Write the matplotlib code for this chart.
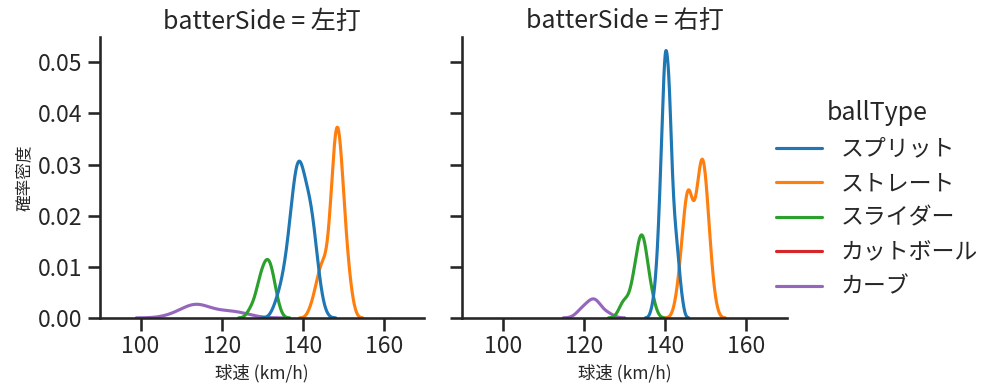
import numpy as np
import pandas as pd
import matplotlib
matplotlib.use("Agg")
import matplotlib.pyplot as plt
import seaborn as sns

# 球種ごとの球速 (km/h) と投球数
ball_types = ["スプリット", "ストレート", "スライダー", "カットボール", "カーブ"]
sides = ["左打", "右打"]

left_split_speed = [133, 134, 135, 136, 137, 138, 139, 140, 141, 142, 143, 144, 145]
left_split_count = [1, 2, 3, 5, 8, 12, 14, 12, 10, 10, 7, 3, 1]
left_straight_speed = [142, 143, 144, 145, 146, 147, 148, 149, 150, 151, 152]
left_straight_count = [1, 2, 4, 5, 4, 9, 17, 17, 10, 5, 2]
left_slider_speed = [127, 128, 129, 130, 131, 132, 133, 134]
left_slider_count = [1, 1, 3, 4, 5, 5, 3, 1]
left_curve_speed = [108, 111, 113, 114, 115, 117, 119, 121, 122, 124, 126]
left_curve_count = [1, 2, 2, 2, 2, 1, 1, 1, 1, 1, 1]

right_split_speed = [137, 138, 139, 140, 141, 142, 143, 144]
right_split_count = [1, 4, 12, 23, 20, 9, 6, 2]
right_straight_speed = [143, 144, 145, 146, 147, 148, 149, 150, 151, 152]
right_straight_count = [2, 5, 10, 13, 6, 10, 15, 13, 6, 2]
right_slider_speed = [129, 130, 131, 132, 133, 134, 135, 136, 137]
right_slider_count = [1, 2, 1, 3, 5, 8, 7, 3, 2]
right_cutter_speed = [139]
right_cutter_count = [1]
right_curve_speed = [119, 120, 121, 122, 123, 124, 126]
right_curve_count = [1, 1, 1, 2, 2, 1, 1]

groups = [
    ("左打", "スプリット", left_split_speed, left_split_count),
    ("左打", "ストレート", left_straight_speed, left_straight_count),
    ("左打", "スライダー", left_slider_speed, left_slider_count),
    ("左打", "カーブ", left_curve_speed, left_curve_count),
    ("右打", "スプリット", right_split_speed, right_split_count),
    ("右打", "ストレート", right_straight_speed, right_straight_count),
    ("右打", "スライダー", right_slider_speed, right_slider_count),
    ("右打", "カットボール", right_cutter_speed, right_cutter_count),
    ("右打", "カーブ", right_curve_speed, right_curve_count),
]

rows = []
for side, bt, speed, count in groups:
    for s in np.repeat(speed, count):
        rows.append({"batterSide": side, "ballType": bt, "speed": float(s)})
df = pd.DataFrame(rows)

sns.set_context("talk")
sns.set_style("ticks")
plt.rcParams["font.family"] = ["Noto Sans CJK JP", "DejaVu Sans"]

g = sns.displot(data=df, x="speed", hue="ballType", col="batterSide", kind="kde",
                hue_order=ball_types, col_order=sides, height=4, aspect=1.0,
                warn_singular=False)
g.figure.set_size_inches(9.97, 3.91)
g.figure.subplots_adjust(left=0.1003, right=0.789, bottom=0.187, top=0.905, wspace=0.117)
g.set(xlim=(90, 170))
g.set_titles("batterSide = {col_name}")
for ax in g.axes.flat:
    ax.set_xlabel("球速 (km/h)", fontsize=12.5)
g.axes.flat[0].set_ylabel("確率密度", fontsize=12)
sns.move_legend(g, "center left", bbox_to_anchor=(0.758, 0.49), frameon=False)

plt.savefig("out.png", dpi=100)
